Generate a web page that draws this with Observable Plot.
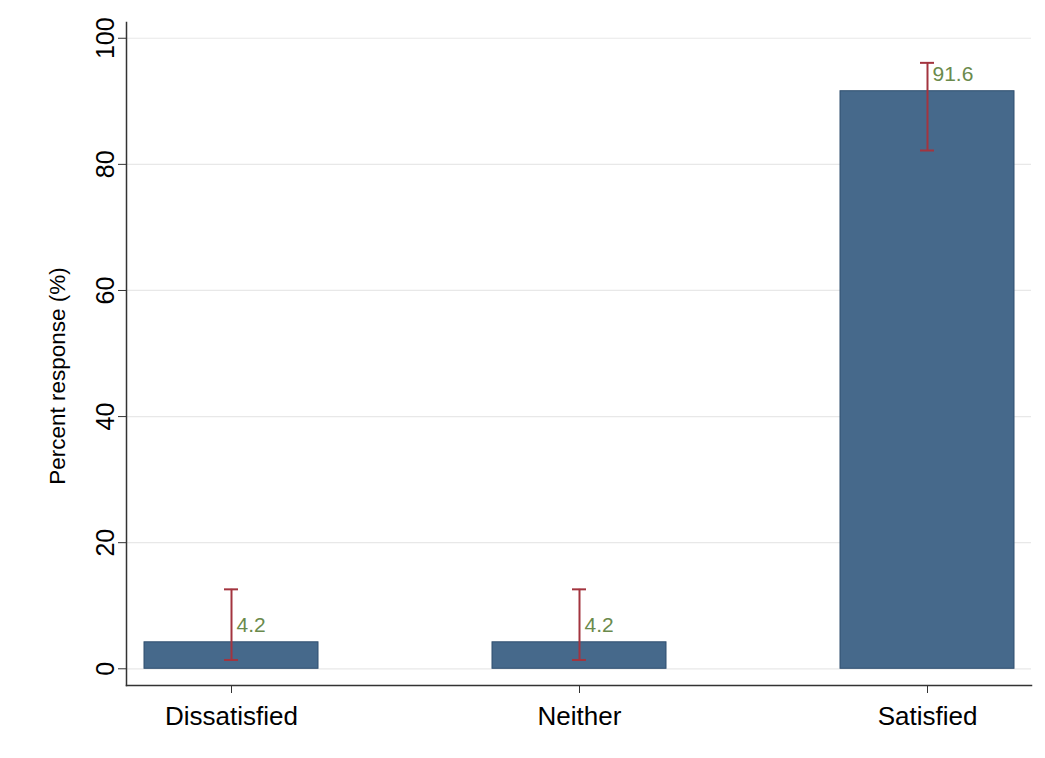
<!DOCTYPE html>
<html>
<head>
<meta charset="utf-8">
<script src="https://cdn.jsdelivr.net/npm/d3@7"></script>
<script src="https://cdn.jsdelivr.net/npm/@observablehq/plot@0.6"></script>
<style>
  body { margin: 0; background: #fff; }
  #chart svg { display: block; }
</style>
</head>
<body>
<div id="chart"></div>
<script>
const categories = ["Dissatisfied", "Neither", "Satisfied"];
const percents = [4.2, 4.2, 91.6];
const ciLow = [1.4, 1.4, 82.2];
const ciHigh = [12.6, 12.6, 96.1];
const yTicks = [0, 20, 40, 60, 80, 100];

const data = categories.map((c, i) => ({cat: c, pct: percents[i], lo: ciLow[i], hi: ciHigh[i]}));

const font = "'Liberation Sans', Arial, sans-serif";

const chart = Plot.plot({
  width: 1045,
  height: 758,
  marginLeft: 126,
  marginRight: 14,
  marginTop: 22,
  marginBottom: 73,
  style: {fontFamily: font, background: "#fff", color: "#000"},
  x: {domain: categories, paddingInner: 0.5, paddingOuter: 0.049, label: null},
  y: {domain: [-2.65, 102.5], label: null},
  marks: [
    Plot.ruleY(yTicks, {stroke: "#e8e8e8", strokeWidth: 1.2}),
    Plot.barY(data, {x: "cat", y: "pct", fill: "#46698b", stroke: "#2f4f6f", strokeWidth: 1}),
    Plot.ruleX(data, {x: "cat", y1: "lo", y2: "hi", stroke: "#a3343f", strokeWidth: 2}),
    Plot.tickY(data, {x: "cat", y: "lo", stroke: "#a3343f", strokeWidth: 2, insetLeft: 80, insetRight: 80}),
    Plot.tickY(data, {x: "cat", y: "hi", stroke: "#a3343f", strokeWidth: 2, insetLeft: 80, insetRight: 80}),
    Plot.text(data, {x: "cat", y: "pct", text: d => d.pct.toFixed(1), fill: "#6a8a4c", fontSize: 21, textAnchor: "start", dx: 5, dy: -17}),
    Plot.axisY({ticks: yTicks, tickSize: 8, tickPadding: 5, tickRotate: -90, fontSize: 25, label: null, stroke: "#333"}),
    Plot.axisX({tickSize: 8, tickPadding: 13, fontSize: 26, label: null, stroke: "#333"}),
    Plot.frame({anchor: "left", stroke: "#333", strokeWidth: 1.5}),
    Plot.frame({anchor: "bottom", stroke: "#333", strokeWidth: 1.5}),
    Plot.text(["Percent response (%)"], {frameAnchor: "left", text: d => d, rotate: -90, textAnchor: "middle", dx: -69, dy: 22, fontSize: 22.5, fill: "#000"})
  ]
});
document.getElementById("chart").appendChild(chart);
</script>
</body>
</html>
